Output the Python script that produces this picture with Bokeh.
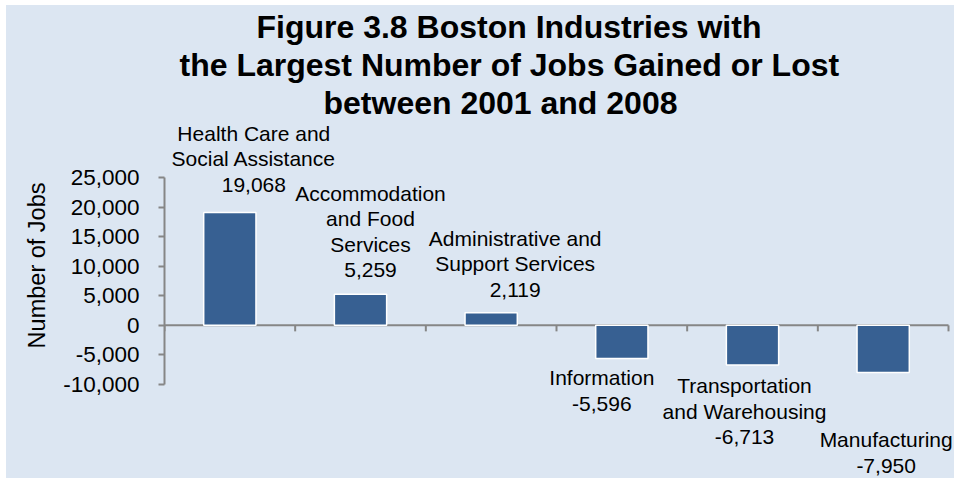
from bokeh.plotting import figure
from bokeh.models import (ColumnDataSource, FixedTicker, NumeralTickFormatter,
                          LinearAxis, Title, Range1d)
from bokeh.core.properties import value
from bokeh.embed import file_html
from bokeh.resources import INLINE

# ---- data ----
categories = ["Health Care and\nSocial Assistance",
              "Accommodation\nand Food\nServices",
              "Administrative and\nSupport Services",
              "Information",
              "Transportation\nand Warehousing",
              "Manufacturing"]
jobs_change = [19068, 5259, 2119, -5596, -6713, -7950]
y_ticks = [-10000, -5000, 0, 5000, 10000, 15000, 20000, 25000]
title_lines = ["Figure 3.8 Boston Industries with",
               "the Largest Number of Jobs Gained or Lost",
               "between 2001 and 2008"]
y_label = "Number of Jobs"

# ---- label nudges (pixels, style only) ----
label_dx = [24, 10, 24, -20, -8, 3]
label_gap = [17, 13, 12, 8, 9, 56]
title_offsets = [92, 15, 159]

FONT = "Liberation Sans"
BG = "#DCE6F2"
BAR = "#376092"
AXIS = "#868686"

W, H = 948, 473
TOP, LEFT = 115, 158
n = len(categories)
xs = [i + 0.5 for i in range(n)]

y_start, y_end = -25893, 34638
frame_h = H - TOP
px_per_unit = frame_h / (y_end - y_start)
tick_len = 6 / px_per_unit

p = figure(width=W, height=H, output_backend="svg", toolbar_location=None,
           title=None, x_axis_type=None, y_axis_type=None,
           x_range=Range1d(0, n * 790 / 784), y_range=Range1d(y_start, y_end),
           min_border_left=LEFT, min_border_right=0, min_border_top=TOP,
           min_border_bottom=0)
p.margin = (5, 4, 4, 6)
p.styles = {"background-color": BG}
p.background_fill_color = None
p.border_fill_color = None
p.outline_line_color = None

for line, off in reversed(list(zip(title_lines, title_offsets))):
    p.add_layout(Title(text=line, align="left", offset=off, standoff=0,
                       text_font=FONT, text_font_size="32px",
                       text_font_style="bold", text_color="black"), "above")

yaxis = LinearAxis(ticker=FixedTicker(ticks=y_ticks),
                   formatter=NumeralTickFormatter(format="0,0"),
                   bounds=(y_ticks[0], y_ticks[-1]))
yaxis.major_label_text_font = FONT
yaxis.major_label_text_font_size = "22.5px"
yaxis.major_label_text_color = "black"
yaxis.major_label_standoff = 19
yaxis.major_tick_out = 6
yaxis.major_tick_in = 0
yaxis.minor_tick_out = 0
yaxis.minor_tick_in = 0
yaxis.axis_line_color = AXIS
yaxis.axis_line_width = 2
yaxis.major_tick_line_color = AXIS
yaxis.major_tick_line_width = 2
p.add_layout(yaxis, "left")

p.add_layout(Title(text=y_label, align="right", offset=62, standoff=22,
                   text_font=FONT, text_font_size="23.5px",
                   text_font_style="normal", text_color="black"), "left")

# category axis along y = 0 with boundary ticks
bounds_x = list(range(n + 1))
p.segment(x0=[bounds_x[0]], y0=[0], x1=[bounds_x[-1]], y1=[0],
          line_color=AXIS, line_width=2)
p.segment(x0=bounds_x, y0=[0] * len(bounds_x), x1=bounds_x,
          y1=[-tick_len] * len(bounds_x), line_color=AXIS, line_width=2)

src = ColumnDataSource(dict(x=xs, v=jobs_change))
p.vbar(x="x", top="v", bottom=0, width=0.4, source=src,
       fill_color=BAR, line_color="white", line_width=1.5)

labels = [c + "\n" + f"{v:,}" for c, v in zip(categories, jobs_change)]
pos = [i for i, v in enumerate(jobs_change) if v >= 0]
neg = [i for i, v in enumerate(jobs_change) if v < 0]

for idx, base, sign in ((pos, "bottom", -1), (neg, "top", 1)):
    s = ColumnDataSource(dict(
        x=[xs[i] for i in idx], y=[jobs_change[i] for i in idx],
        t=[labels[i] for i in idx], dx=[label_dx[i] for i in idx],
        dy=[sign * label_gap[i] for i in idx]))
    p.text(x="x", y="y", text="t", x_offset="dx", y_offset="dy", source=s,
           text_align="center", text_baseline=base, text_line_height=1.11,
           text_font=value(FONT), text_font_size="21px", text_color="black")

open("out.html", "w").write(file_html(p, INLINE))
